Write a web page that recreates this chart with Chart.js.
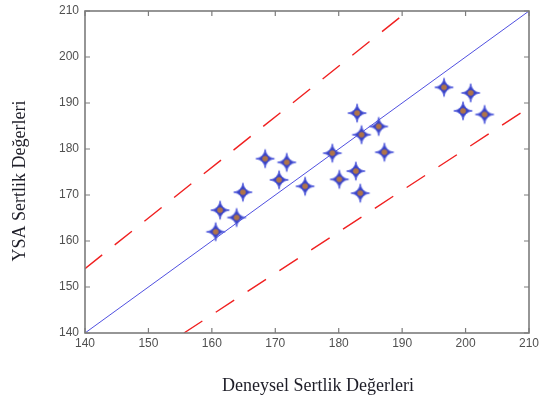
<!DOCTYPE html>
<html>
<head>
<meta charset="utf-8">
<script src="https://cdn.jsdelivr.net/npm/chart.js@4"></script>
<style>
  html, body { margin: 0; padding: 0; background: #fff; }
  #wrap { width: 540px; height: 403px; }
</style>
</head>
<body>
<div id="wrap"><canvas id="hardnessChart" width="540" height="403"></canvas></div>
<script>
// Deneysel (x) ve YSA (y) sertlik değerleri
const deneysel = [160.6, 161.3, 163.9, 164.9, 168.4, 170.6, 171.8, 174.7, 179.0, 180.1,
                  182.7, 182.9, 183.6, 183.4, 186.3, 187.2, 196.6, 199.6, 200.8, 203.0];
const ysa      = [162.0, 166.7, 165.1, 170.6, 177.9, 173.3, 177.1, 171.9, 179.1, 173.4,
                  175.2, 187.8, 183.1, 170.4, 184.9, 179.3, 193.4, 188.3, 192.2, 187.5];

// y = x doğrusu ve ±%10 sınırları
const idealX = [140, 210];
const idealY = [140, 210];
const ustX = [140, 190.9];
const ustY = [154, 210];
const altX = [155.6, 210];
const altY = [140, 189];

const tickValues = [140, 150, 160, 170, 180, 190, 200, 210];

const toPoints = (xs, ys) => xs.map((v, i) => ({ x: v, y: ys[i] }));

// dört köşeli yıldız işaretçisi
function makeStar() {
  const c = document.createElement('canvas');
  c.width = 22; c.height = 22;
  const g = c.getContext('2d');
  const cx = 11, cy = 11, R = 9.3, d = 1.2;
  const tips = [[0, -R], [R, 0], [0, R], [-R, 0]];
  const ctrl = [[d, -d], [d, d], [-d, d], [-d, -d]];
  g.beginPath();
  g.moveTo(cx + tips[0][0], cy + tips[0][1]);
  for (let i = 1; i <= 4; i++) {
    const t = tips[i % 4], k = ctrl[i - 1];
    g.quadraticCurveTo(cx + k[0], cy + k[1], cx + t[0], cy + t[1]);
  }
  g.closePath();
  g.fillStyle = '#3a44c4';
  g.fill();
  g.strokeStyle = 'rgba(90,100,225,0.9)';
  g.lineWidth = 1;
  g.stroke();
  g.beginPath();
  g.arc(cx, cy, 2.8, 0, Math.PI * 2);
  g.fillStyle = '#b07448';
  g.fill();
  return c;
}

const framePlugin = {
  id: 'frame',
  afterDraw(chart) {
    const { ctx, chartArea: { left, right, top, bottom }, scales: { x, y } } = chart;
    ctx.save();
    ctx.strokeStyle = '#7c7c7c';
    ctx.lineWidth = 1.6;
    ctx.strokeRect(left, top, right - left, bottom - top);
    ctx.lineWidth = 1.2;
    ctx.beginPath();
    tickValues.forEach(v => {
      const px = x.getPixelForValue(v);
      ctx.moveTo(px, bottom); ctx.lineTo(px, bottom - 5);
      ctx.moveTo(px, top); ctx.lineTo(px, top + 5);
      const py = y.getPixelForValue(v);
      ctx.moveTo(left, py); ctx.lineTo(left + 5, py);
      ctx.moveTo(right, py); ctx.lineTo(right - 5, py);
    });
    ctx.stroke();

    ctx.fillStyle = '#1e1e28';
    ctx.font = '18px "Liberation Serif", "Times New Roman", serif';
    ctx.textAlign = 'center';
    ctx.textBaseline = 'middle';
    ctx.fillText('Deneysel Sertlik Değerleri', 318, 386);
    ctx.translate(20, 181);
    ctx.rotate(-Math.PI / 2);
    ctx.fillText('YSA Sertlik Değerleri', 0, 0);
    ctx.restore();
  }
};

const tickFont = { family: '"Liberation Sans", Arial, sans-serif', size: 12 };

new Chart(document.getElementById('hardnessChart').getContext('2d'), {
  type: 'scatter',
  data: {
    datasets: [
      {
        label: 'YSA',
        data: toPoints(deneysel, ysa),
        pointStyle: makeStar(),
        pointRadius: 10,
        order: 0
      },
      {
        type: 'line',
        label: 'y = x',
        data: toPoints(idealX, idealY),
        borderColor: '#5050e0',
        borderWidth: 1,
        pointRadius: 0,
        order: 1
      },
      {
        type: 'line',
        label: '+%10',
        data: toPoints(ustX, ustY),
        borderColor: '#f02020',
        borderWidth: 1.4,
        borderDash: [22, 16],
        pointRadius: 0,
        order: 1
      },
      {
        type: 'line',
        label: '-%10',
        data: toPoints(altX, altY),
        borderColor: '#f02020',
        borderWidth: 1.4,
        borderDash: [22, 16],
        pointRadius: 0,
        order: 1
      }
    ]
  },
  options: {
    responsive: false,
    animation: false,
    layout: { padding: { top: 10, right: 8, left: 0, bottom: 0 } },
    plugins: { legend: { display: false }, tooltip: { enabled: false } },
    scales: {
      x: {
        type: 'linear', min: 140, max: 210,
        afterBuildTicks: s => { s.ticks = tickValues.map(v => ({ value: v })); },
        ticks: { font: tickFont, color: '#505050', padding: 3 },
        grid: { display: false, drawTicks: false },
        border: { display: false },
        afterFit: s => { s.height = 70; s.paddingRight = 0; s.paddingLeft = 0; }
      },
      y: {
        type: 'linear', min: 140, max: 210,
        afterBuildTicks: s => { s.ticks = tickValues.map(v => ({ value: v })); },
        ticks: { font: tickFont, color: '#505050', padding: 6 },
        grid: { display: false, drawTicks: false },
        border: { display: false },
        afterFit: s => { s.width = 85; s.paddingTop = 0; s.paddingBottom = 0; }
      }
    }
  },
  plugins: [framePlugin]
});
</script>
</body>
</html>
